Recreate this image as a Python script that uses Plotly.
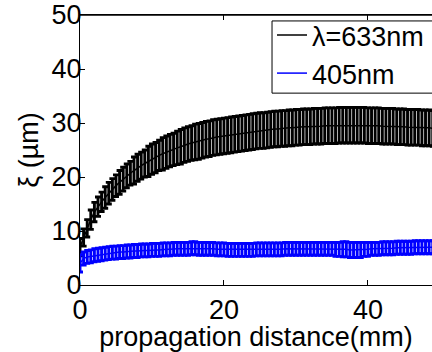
import plotly.graph_objects as go

# propagation distance (mm)
distance = [
    0.0, 0.5, 1.0, 1.5, 2.0, 2.5, 3.0, 3.5, 4.0, 4.5,
    5.0, 5.5, 6.0, 6.5, 7.0, 7.5, 8.0, 8.5, 9.0, 9.5,
    10.0, 10.5, 11.0, 11.5, 12.0, 12.5, 13.0, 13.5, 14.0, 14.5,
    15.0, 15.5, 16.0, 16.5, 17.0, 17.5, 18.0, 18.5, 19.0, 19.5,
    20.0, 20.5, 21.0, 21.5, 22.0, 22.5, 23.0, 23.5, 24.0, 24.5,
    25.0, 25.5, 26.0, 26.5, 27.0, 27.5, 28.0, 28.5, 29.0, 29.5,
    30.0, 30.5, 31.0, 31.5, 32.0, 32.5, 33.0, 33.5, 34.0, 34.5,
    35.0, 35.5, 36.0, 36.5, 37.0, 37.5, 38.0, 38.5, 39.0, 39.5,
    40.0, 40.5, 41.0, 41.5, 42.0, 42.5, 43.0, 43.5, 44.0, 44.5,
    45.0, 45.5, 46.0, 46.5, 47.0, 47.5, 48.0, 48.5, 49.0,
]

# coherence length xi (um), lambda = 633 nm
xi_633 = [
    7.0, 8.8, 10.5, 12.1, 13.5, 14.5, 15.4, 16.2, 17.0, 17.7,
    18.4, 19.0, 19.6, 20.2, 20.7, 21.2, 21.7, 22.1, 22.5, 22.9,
    23.3, 23.6, 24.0, 24.3, 24.6, 24.9, 25.1, 25.4, 25.6, 25.9,
    26.1, 26.3, 26.5, 26.6, 26.8, 27.0, 27.1, 27.3, 27.4, 27.5,
    27.6, 27.7, 27.8, 27.9, 28.0, 28.1, 28.2, 28.3, 28.4, 28.5,
    28.6, 28.6, 28.7, 28.8, 28.9, 28.9, 29.0, 29.0, 29.1, 29.1,
    29.2, 29.2, 29.3, 29.3, 29.3, 29.4, 29.4, 29.4, 29.5, 29.5,
    29.5, 29.5, 29.6, 29.6, 29.6, 29.6, 29.6, 29.6, 29.6, 29.6,
    29.5, 29.5, 29.5, 29.5, 29.4, 29.4, 29.4, 29.4, 29.3, 29.3,
    29.3, 29.2, 29.2, 29.2, 29.2, 29.1, 29.1, 29.1, 29.0,
]
err_633 = [
    1.6, 1.6, 1.6, 1.8, 1.8, 1.8, 1.8, 2.0, 2.0, 2.0,
    2.0, 2.2, 2.2, 2.2, 2.2, 2.5, 2.5, 2.5, 2.5, 2.8,
    2.8, 2.8, 2.8, 3.0, 3.0, 3.0, 3.0, 3.1, 3.2, 3.2,
    3.2, 3.2, 3.3, 3.3, 3.3, 3.3, 3.3, 3.3, 3.3, 3.3,
    3.3, 3.3, 3.3, 3.3, 3.3, 3.3, 3.3, 3.3, 3.3, 3.3,
    3.3, 3.3, 3.3, 3.3, 3.3, 3.3, 3.3, 3.3, 3.3, 3.3,
    3.3, 3.3, 3.3, 3.3, 3.3, 3.3, 3.3, 3.3, 3.3, 3.3,
    3.3, 3.3, 3.3, 3.3, 3.3, 3.3, 3.3, 3.3, 3.3, 3.3,
    3.3, 3.3, 3.3, 3.3, 3.3, 3.3, 3.3, 3.3, 3.3, 3.3,
    3.3, 3.3, 3.3, 3.3, 3.3, 3.3, 3.3, 3.3, 3.3,
]

# coherence length xi (um), lambda = 405 nm
xi_405 = [
    4.0, 4.9, 5.2, 5.3, 5.5, 5.6, 5.7, 5.8, 5.9, 6.0,
    6.0, 6.1, 6.1, 6.2, 6.2, 6.3, 6.3, 6.4, 6.4, 6.4,
    6.5, 6.5, 6.5, 6.6, 6.6, 6.6, 6.7, 6.7, 6.7, 6.7,
    6.7, 6.8, 6.8, 6.7, 6.7, 6.7, 6.7, 6.7, 6.6, 6.6,
    6.6, 6.5, 6.5, 6.5, 6.5, 6.5, 6.5, 6.5, 6.5, 6.6,
    6.6, 6.6, 6.6, 6.6, 6.6, 6.6, 6.6, 6.7, 6.7, 6.7,
    6.7, 6.7, 6.7, 6.7, 6.7, 6.7, 6.7, 6.7, 6.7, 6.7,
    6.7, 6.6, 6.6, 6.6, 6.6, 6.5, 6.5, 6.5, 6.5, 6.6,
    6.6, 6.7, 6.7, 6.7, 6.8, 6.8, 6.8, 6.8, 6.9, 6.9,
    6.9, 6.9, 6.9, 7.0, 7.0, 7.0, 7.0, 7.0, 7.0,
]
err_405 = [
    1.6, 1.2, 1.2, 1.2, 1.2, 1.2, 1.2, 1.2, 1.2, 1.2,
    1.2, 1.2, 1.2, 1.2, 1.2, 1.2, 1.2, 1.2, 1.2, 1.2,
    1.2, 1.2, 1.2, 1.2, 1.2, 1.2, 1.2, 1.2, 1.2, 1.2,
    1.2, 1.2, 1.2, 1.2, 1.2, 1.2, 1.2, 1.2, 1.2, 1.2,
    1.2, 1.2, 1.2, 1.2, 1.2, 1.2, 1.2, 1.2, 1.2, 1.2,
    1.2, 1.2, 1.2, 1.2, 1.2, 1.2, 1.2, 1.2, 1.2, 1.2,
    1.2, 1.2, 1.2, 1.2, 1.2, 1.2, 1.2, 1.2, 1.2, 1.2,
    1.2, 1.3, 1.3, 1.4, 1.4, 1.4, 1.4, 1.4, 1.4, 1.3,
    1.3, 1.2, 1.2, 1.2, 1.2, 1.2, 1.2, 1.2, 1.2, 1.2,
    1.2, 1.2, 1.2, 1.2, 1.2, 1.2, 1.2, 1.2, 1.2,
]

series_names = ["\u03bb=633nm", "405nm"]
x_ticks = [0, 20, 40]
y_ticks = [0, 10, 20, 30, 40, 50]

FONT = "Liberation Sans, Arial, Helvetica, sans-serif"
FS = 27

fig = go.Figure()
fig.add_trace(go.Scatter(
    x=distance, y=xi_633, mode="lines", name=series_names[0],
    line=dict(color="#000000", width=1.5),
    error_y=dict(type="data", array=err_633, color="#000000", thickness=2.9, width=3),
))
fig.add_trace(go.Scatter(
    x=distance, y=xi_405, mode="lines", name=series_names[1],
    line=dict(color="#0000FF", width=1.5),
    error_y=dict(type="data", array=err_405, color="#0000FF", thickness=2.9, width=3),
))

# top frame line (the plot continues past the right edge of the picture)
fig.add_shape(type="line", xref="paper", yref="paper", x0=0, x1=1, y0=1, y1=1,
              line=dict(color="#000000", width=1.3), layer="above")
# legend frame
fig.add_shape(type="rect", xref="paper", yref="paper",
              x0=0.5455, x1=1.05, y0=0.7106, y1=0.978,
              line=dict(color="#000000", width=1), fillcolor="white", layer="above")

fig.update_layout(
    width=432, height=352,
    margin=dict(l=80, r=0, t=12, b=67),
    paper_bgcolor="white", plot_bgcolor="white",
    font=dict(family=FONT, size=FS, color="#000000"),
    showlegend=True,
    legend=dict(
        x=0.5455, y=1.015, xanchor="left", yanchor="top",
        borderwidth=0, bgcolor="rgba(0,0,0,0)",
        font=dict(size=FS), itemwidth=30, tracegroupgap=0,
    ),
    xaxis=dict(
        range=[0, 48.9], tickvals=x_ticks, ticks="inside", ticklen=5,
        tickcolor="#000000", showline=True, linecolor="#000000", linewidth=1.3,
        mirror="ticks", showgrid=False, zeroline=False, ticklabeloverflow="allow",
        title=dict(text="propagation distance(mm)", standoff=0, font=dict(size=FS)),
    ),
    yaxis=dict(
        range=[0, 50], tickvals=y_ticks, ticks="inside", ticklen=5,
        tickcolor="#000000", showline=True, linecolor="#000000", linewidth=1.3,
        mirror=False, showgrid=False, zeroline=False, ticklabeloverflow="allow",
        ticklabelstandoff=-8,
        title=dict(text="\u03be (\u00b5m)", standoff=4, font=dict(size=FS)),
    ),
)

fig.write_html("out.html")
